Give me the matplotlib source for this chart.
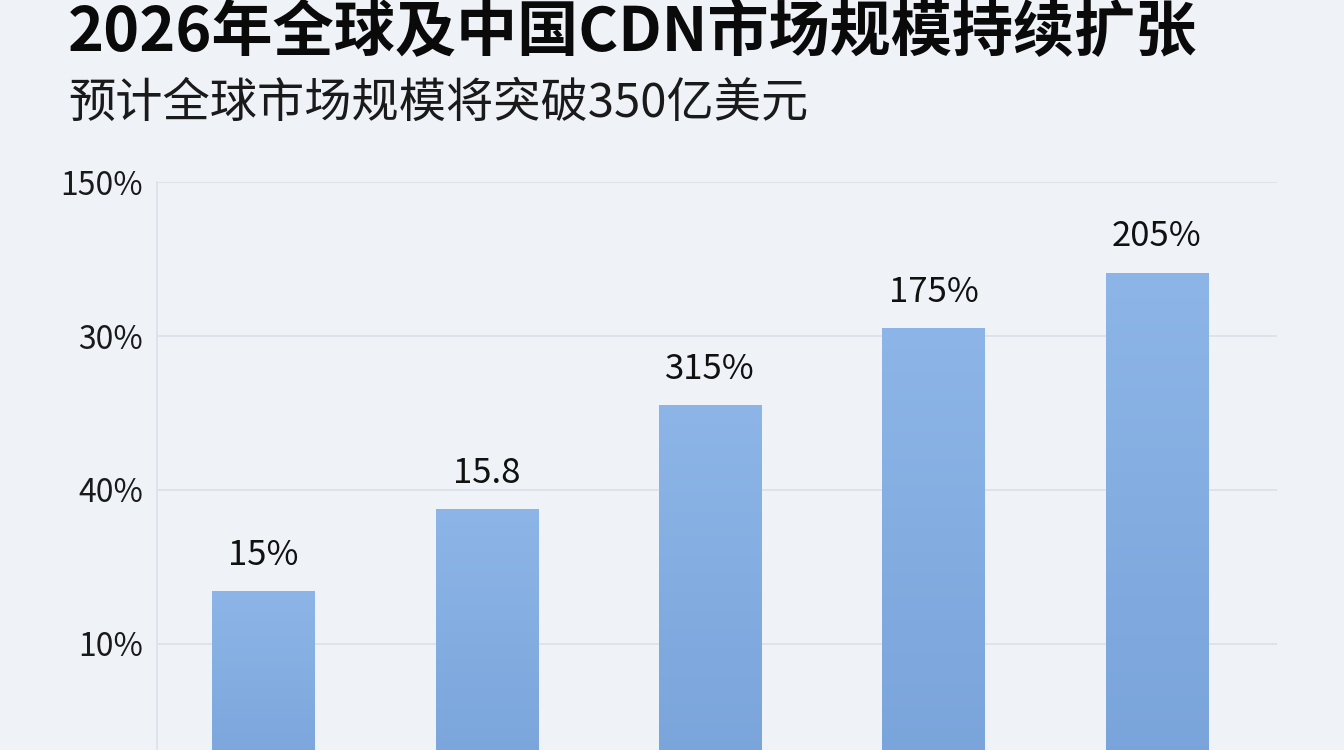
import numpy as np
import matplotlib
matplotlib.use("Agg")
import matplotlib.pyplot as plt
from matplotlib.colors import LinearSegmentedColormap

plt.rcParams['font.family'] = ['Noto Sans CJK SC', 'DejaVu Sans']

# ---- data (y in gridline units) ----
title = "2026年全球及中国CDN市场规模持续扩张"
subtitle = "预计全球市场规模将突破350亿美元"
tick_positions = [1, 2, 3, 4]
tick_labels = ["10%", "40%", "30%", "150%"]
bar_heights = [1.342, 1.875, 2.552, 3.053, 3.414]
bar_labels = ["15%", "15.8", "315%", "175%", "205%"]

BG = "#eff3f8"
fig = plt.figure(figsize=(13.44, 7.5), dpi=100, facecolor=BG)
ax = fig.add_axes([0.1168, -0.0629, 0.8333, 0.8196])
ax.set_facecolor(BG)

x = np.arange(len(bar_heights))
bars = ax.bar(x, bar_heights, width=0.46, color="#84ade2", zorder=2)

cmap = LinearSegmentedColormap.from_list("g", ["#78a3da", "#8db5e7"])
grad = np.linspace(0, 1, 256).reshape(-1, 1)
for b in bars:
    x0 = b.get_x(); w = b.get_width(); h = b.get_height()
    im = ax.imshow(grad, extent=[x0, x0 + w, 0, h], origin='lower', cmap=cmap,
                   aspect='auto', zorder=3)
    im.set_clip_path(b)

for xi, h, lab in zip(x, bar_heights, bar_labels):
    ax.annotate(lab, (xi, h), xytext=(0, 19), textcoords='offset points',
                ha='center', va='baseline', fontsize=25, color="#111111", zorder=4)

ax.set_xlim(-0.477, 4.537)
ax.set_ylim(0, 4)
ax.set_yticks(tick_positions)
ax.set_yticklabels(tick_labels, fontsize=23, color="#1a1a1a")
ax.set_xticks([])
ax.tick_params(axis='y', length=0, pad=10)
ax.yaxis.grid(True, color="#dde2ea", linewidth=1.3, zorder=0)
ax.set_axisbelow(True)
for s in ['top', 'right', 'bottom']:
    ax.spines[s].set_visible(False)
ax.spines['left'].set_color("#dde2ea")
ax.spines['left'].set_linewidth(1.3)

fig.text(0.0506, 0.932, title, fontsize=44, fontweight='heavy', color="#0a0a0a",
         ha='left', va='baseline')
fig.text(0.0506, 0.844, subtitle, fontsize=34, color="#1a1a1a",
         ha='left', va='baseline')

fig.savefig("out.png", dpi=100, facecolor=BG)
